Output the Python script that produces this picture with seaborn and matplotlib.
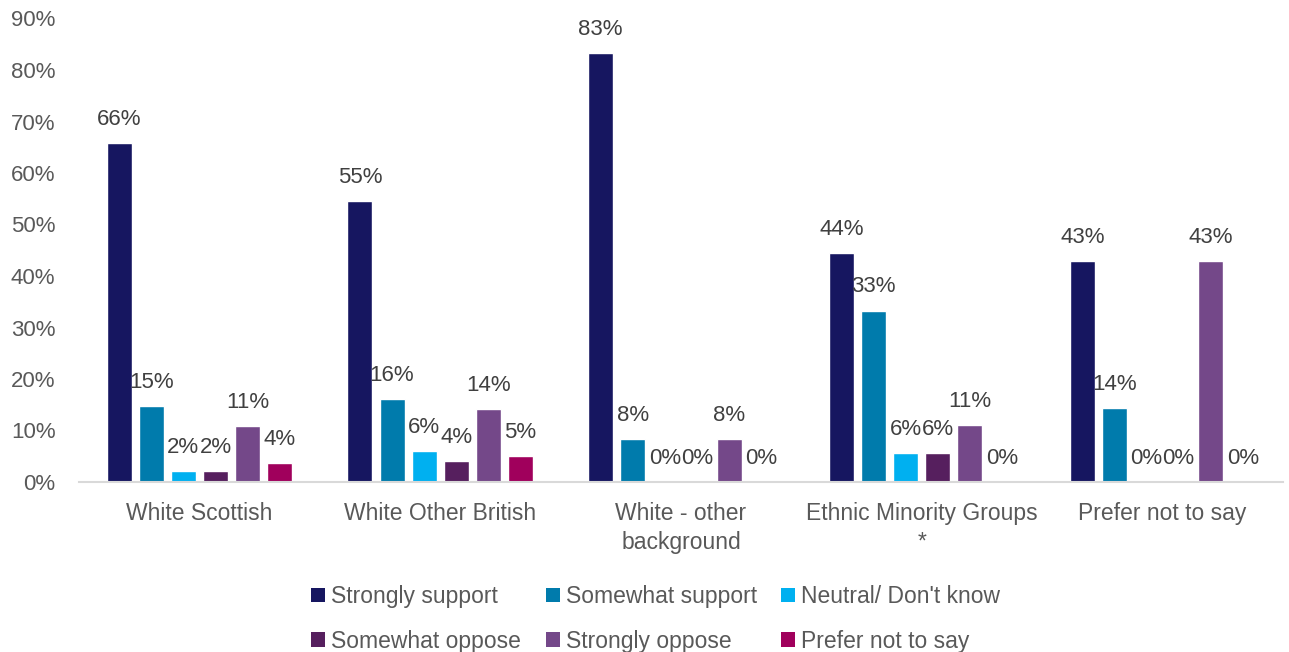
import matplotlib
matplotlib.use("Agg")
import matplotlib.pyplot as plt
from matplotlib.patches import Patch
from matplotlib.ticker import PercentFormatter
import pandas as pd
import seaborn as sns

# Survey responses by ethnic group (share of respondents)
groups = ["White Scottish", "White Other British", "White - other\nbackground",
          "Ethnic Minority Groups\n*", "Prefer not to say"]
responses = ["Strongly support", "Somewhat support", "Neutral/ Don't know",
             "Somewhat oppose", "Strongly oppose", "Prefer not to say"]

strongly_support = [0.658, 0.546, 0.833, 0.444, 0.429]
somewhat_support = [0.148, 0.161, 0.083, 0.333, 0.143]
neutral_dont_know = [0.021, 0.060, 0.0, 0.056, 0.0]
somewhat_oppose = [0.021, 0.040, 0.0, 0.056, 0.0]
strongly_oppose = [0.108, 0.141, 0.083, 0.111, 0.429]
prefer_not_to_say = [0.036, 0.050, 0.0, 0.0, 0.0]

colors = ["#161660", "#007BAC", "#00B0F0", "#561F5E", "#744889", "#A0005C"]

series = [strongly_support, somewhat_support, neutral_dont_know,
          somewhat_oppose, strongly_oppose, prefer_not_to_say]
df = pd.DataFrame(
    [(g, r, v) for r, vals in zip(responses, series) for g, v in zip(groups, vals)],
    columns=["group", "response", "share"],
)

sns.set_theme(style="white")
font = ["Liberation Sans", "DejaVu Sans"]
plt.rcParams["font.family"] = font
grey = "#595959"
num_size = 16
txt_size = 16.5

fig = plt.figure(figsize=(12.89, 6.52), dpi=100)
ax = fig.add_axes([79 / 1289, 1 - 482 / 652, (1283 - 79) / 1289, (482 - 18.5) / 652])

sns.barplot(data=df, x="group", y="share", hue="response", order=groups,
            hue_order=responses, palette=colors, width=0.8, gap=0.22,
            saturation=1, legend=False, ax=ax, errorbar=None)

for cont in ax.containers:
    ax.bar_label(cont, fmt=lambda v: f"{v:.0%}", padding=9.5,
                 fontsize=num_size, color="#404040")

ax.set_ylim(0, 0.9)
ax.set_yticks([i / 10 for i in range(10)])
ax.yaxis.set_major_formatter(PercentFormatter(1.0, decimals=0))
ax.set_xlabel("")
ax.set_ylabel("")
ax.tick_params(axis="y", length=0, pad=17, labelsize=num_size, labelcolor=grey)
ax.tick_params(axis="x", length=0, pad=14.7, labelsize=txt_size, labelcolor=grey)
for lab in ax.get_xticklabels():
    lab.set_linespacing(1.3)
    lab.set_verticalalignment("top")
for side in ("top", "right", "left"):
    ax.spines[side].set_visible(False)
ax.spines["bottom"].set_color("#D9D9D9")
ax.spines["bottom"].set_linewidth(1.5)
ax.grid(False)

# Legend laid out as three columns of two entries each
col_x = [311, 546, 781]
for c, x in enumerate(col_x):
    idx = [c, c + 3]
    handles = [Patch(facecolor=colors[i], edgecolor="none") for i in idx]
    labels = [responses[i] for i in idx]
    leg = fig.legend(handles, labels, loc="upper left",
                     bbox_to_anchor=(x / 1289, 1 - 585 / 652), frameon=False,
                     borderpad=0, borderaxespad=0, handlelength=0.61,
                     handleheight=0.61, handletextpad=0.26, labelspacing=0.94,
                     prop={"size": txt_size})
    for t in leg.get_texts():
        t.set_color(grey)

fig.savefig("out.png", dpi=100)
